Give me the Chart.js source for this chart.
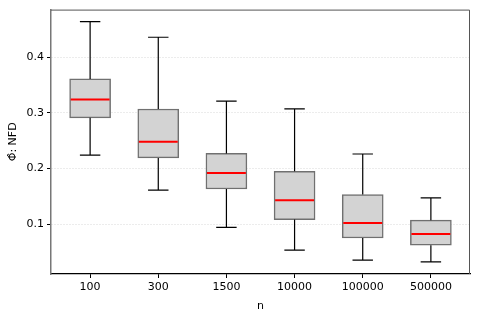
<!DOCTYPE html>
<html>
<head>
<meta charset="utf-8">
<script src="https://cdn.jsdelivr.net/npm/chart.js@4/dist/chart.umd.min.js"></script>
<style>
  html, body { margin: 0; padding: 0; background: #fff; }
  #wrap { width: 478px; height: 317px; }
</style>
</head>
<body>
<div id="wrap"><canvas id="box-chart"></canvas></div>
<script>
// box plot data
const categories = ['100', '300', '1500', '10000', '100000', '500000'];
const positions = [1, 2, 3, 4, 5, 6];
const whiskerLow = [0.224, 0.161, 0.094, 0.053, 0.035, 0.032];
const q1 = [0.291, 0.219, 0.163, 0.108, 0.075, 0.062];
const medians = [0.324, 0.248, 0.192, 0.143, 0.102, 0.082];
const q3 = [0.361, 0.307, 0.227, 0.195, 0.153, 0.107];
const whiskerHigh = [0.464, 0.436, 0.321, 0.307, 0.226, 0.147];
const yTicks = [0.1, 0.2, 0.3, 0.4];

const font = { family: 'DejaVu Sans', size: 11 };

// whiskers, caps, medians and the top/right frame, drawn through the chart scales
const boxExtras = {
    id: 'boxExtras',
    afterDatasetsDraw(chart) {
        const ctx = chart.ctx;
        const x = chart.scales.x;
        const y = chart.scales.y;
        const half = x.getPixelForValue(1.3) - x.getPixelForValue(1);
        const cap = half / 2;
        ctx.save();
        positions.forEach((p, i) => {
            const px = x.getPixelForValue(p);
            ctx.strokeStyle = '#000';
            ctx.lineWidth = 1.2;
            ctx.beginPath();
            ctx.moveTo(px, y.getPixelForValue(q3[i]));
            ctx.lineTo(px, y.getPixelForValue(whiskerHigh[i]));
            ctx.moveTo(px - cap, y.getPixelForValue(whiskerHigh[i]));
            ctx.lineTo(px + cap, y.getPixelForValue(whiskerHigh[i]));
            ctx.moveTo(px, y.getPixelForValue(q1[i]));
            ctx.lineTo(px, y.getPixelForValue(whiskerLow[i]));
            ctx.moveTo(px - cap, y.getPixelForValue(whiskerLow[i]));
            ctx.lineTo(px + cap, y.getPixelForValue(whiskerLow[i]));
            ctx.stroke();

            ctx.strokeStyle = '#ff0000';
            ctx.lineWidth = 2;
            ctx.beginPath();
            ctx.moveTo(px - half + 1, y.getPixelForValue(medians[i]));
            ctx.lineTo(px + half - 1, y.getPixelForValue(medians[i]));
            ctx.stroke();
        });
        const a = chart.chartArea;
        ctx.strokeStyle = '#555';
        ctx.lineWidth = 1;
        ctx.beginPath();
        ctx.moveTo(a.left, a.top + 0.5);
        ctx.lineTo(a.right - 0.5, a.top + 0.5);
        ctx.lineTo(a.right - 0.5, a.bottom);
        ctx.stroke();
        ctx.restore();
    }
};

new Chart(document.querySelector('#box-chart').getContext('2d'), {
    type: 'bar',
    data: {
        datasets: [{
            label: 'IQR',
            data: positions.map((p, i) => ({ x: p, y: [q1[i], q3[i]] })),
            backgroundColor: '#d3d3d3',
            borderColor: '#707070',
            borderWidth: 1.5,
            borderSkipped: false,
            barThickness: 41
        }]
    },
    options: {
        responsive: true,
        maintainAspectRatio: false,
        animation: false,
        events: [],
        layout: { padding: { left: 0, top: 8, right: 8, bottom: 0 } },
        plugins: { legend: { display: false }, tooltip: { enabled: false } },
        scales: {
            x: {
                type: 'linear',
                offset: false,
                min: 0.426,
                max: 6.574,
                afterBuildTicks: scale => { scale.ticks = positions.map(v => ({ value: v })); },
                afterFit: scale => { scale.height = 43; },
                ticks: {
                    color: '#000',
                    font: font,
                    padding: 3,
                    maxRotation: 0,
                    callback: (v) => categories[positions.indexOf(v)]
                },
                grid: { offset: false, drawOnChartArea: false, drawTicks: true, tickLength: 4, color: '#000' },
                border: { color: '#000', width: 1.2 },
                title: { display: true, text: 'n', color: '#000', font: font, padding: { top: 0 } }
            },
            y: {
                min: 0.0102,
                max: 0.4857,
                afterBuildTicks: scale => { scale.ticks = yTicks.map(v => ({ value: v })); },
                afterFit: scale => { scale.width = 51; },
                ticks: {
                    color: '#000',
                    font: font,
                    padding: 3,
                    callback: v => v.toFixed(1)
                },
                grid: { color: '#d9d9d9', tickLength: 4, tickColor: '#000' },
                border: { color: '#777', width: 1.5, dash: [1, 2] },
                title: { display: true, text: 'Φ̂: NFD', color: '#000', font: font, padding: { top: 7, bottom: 0 } }
            }
        }
    },
    plugins: [boxExtras]
});
</script>
</body>
</html>
